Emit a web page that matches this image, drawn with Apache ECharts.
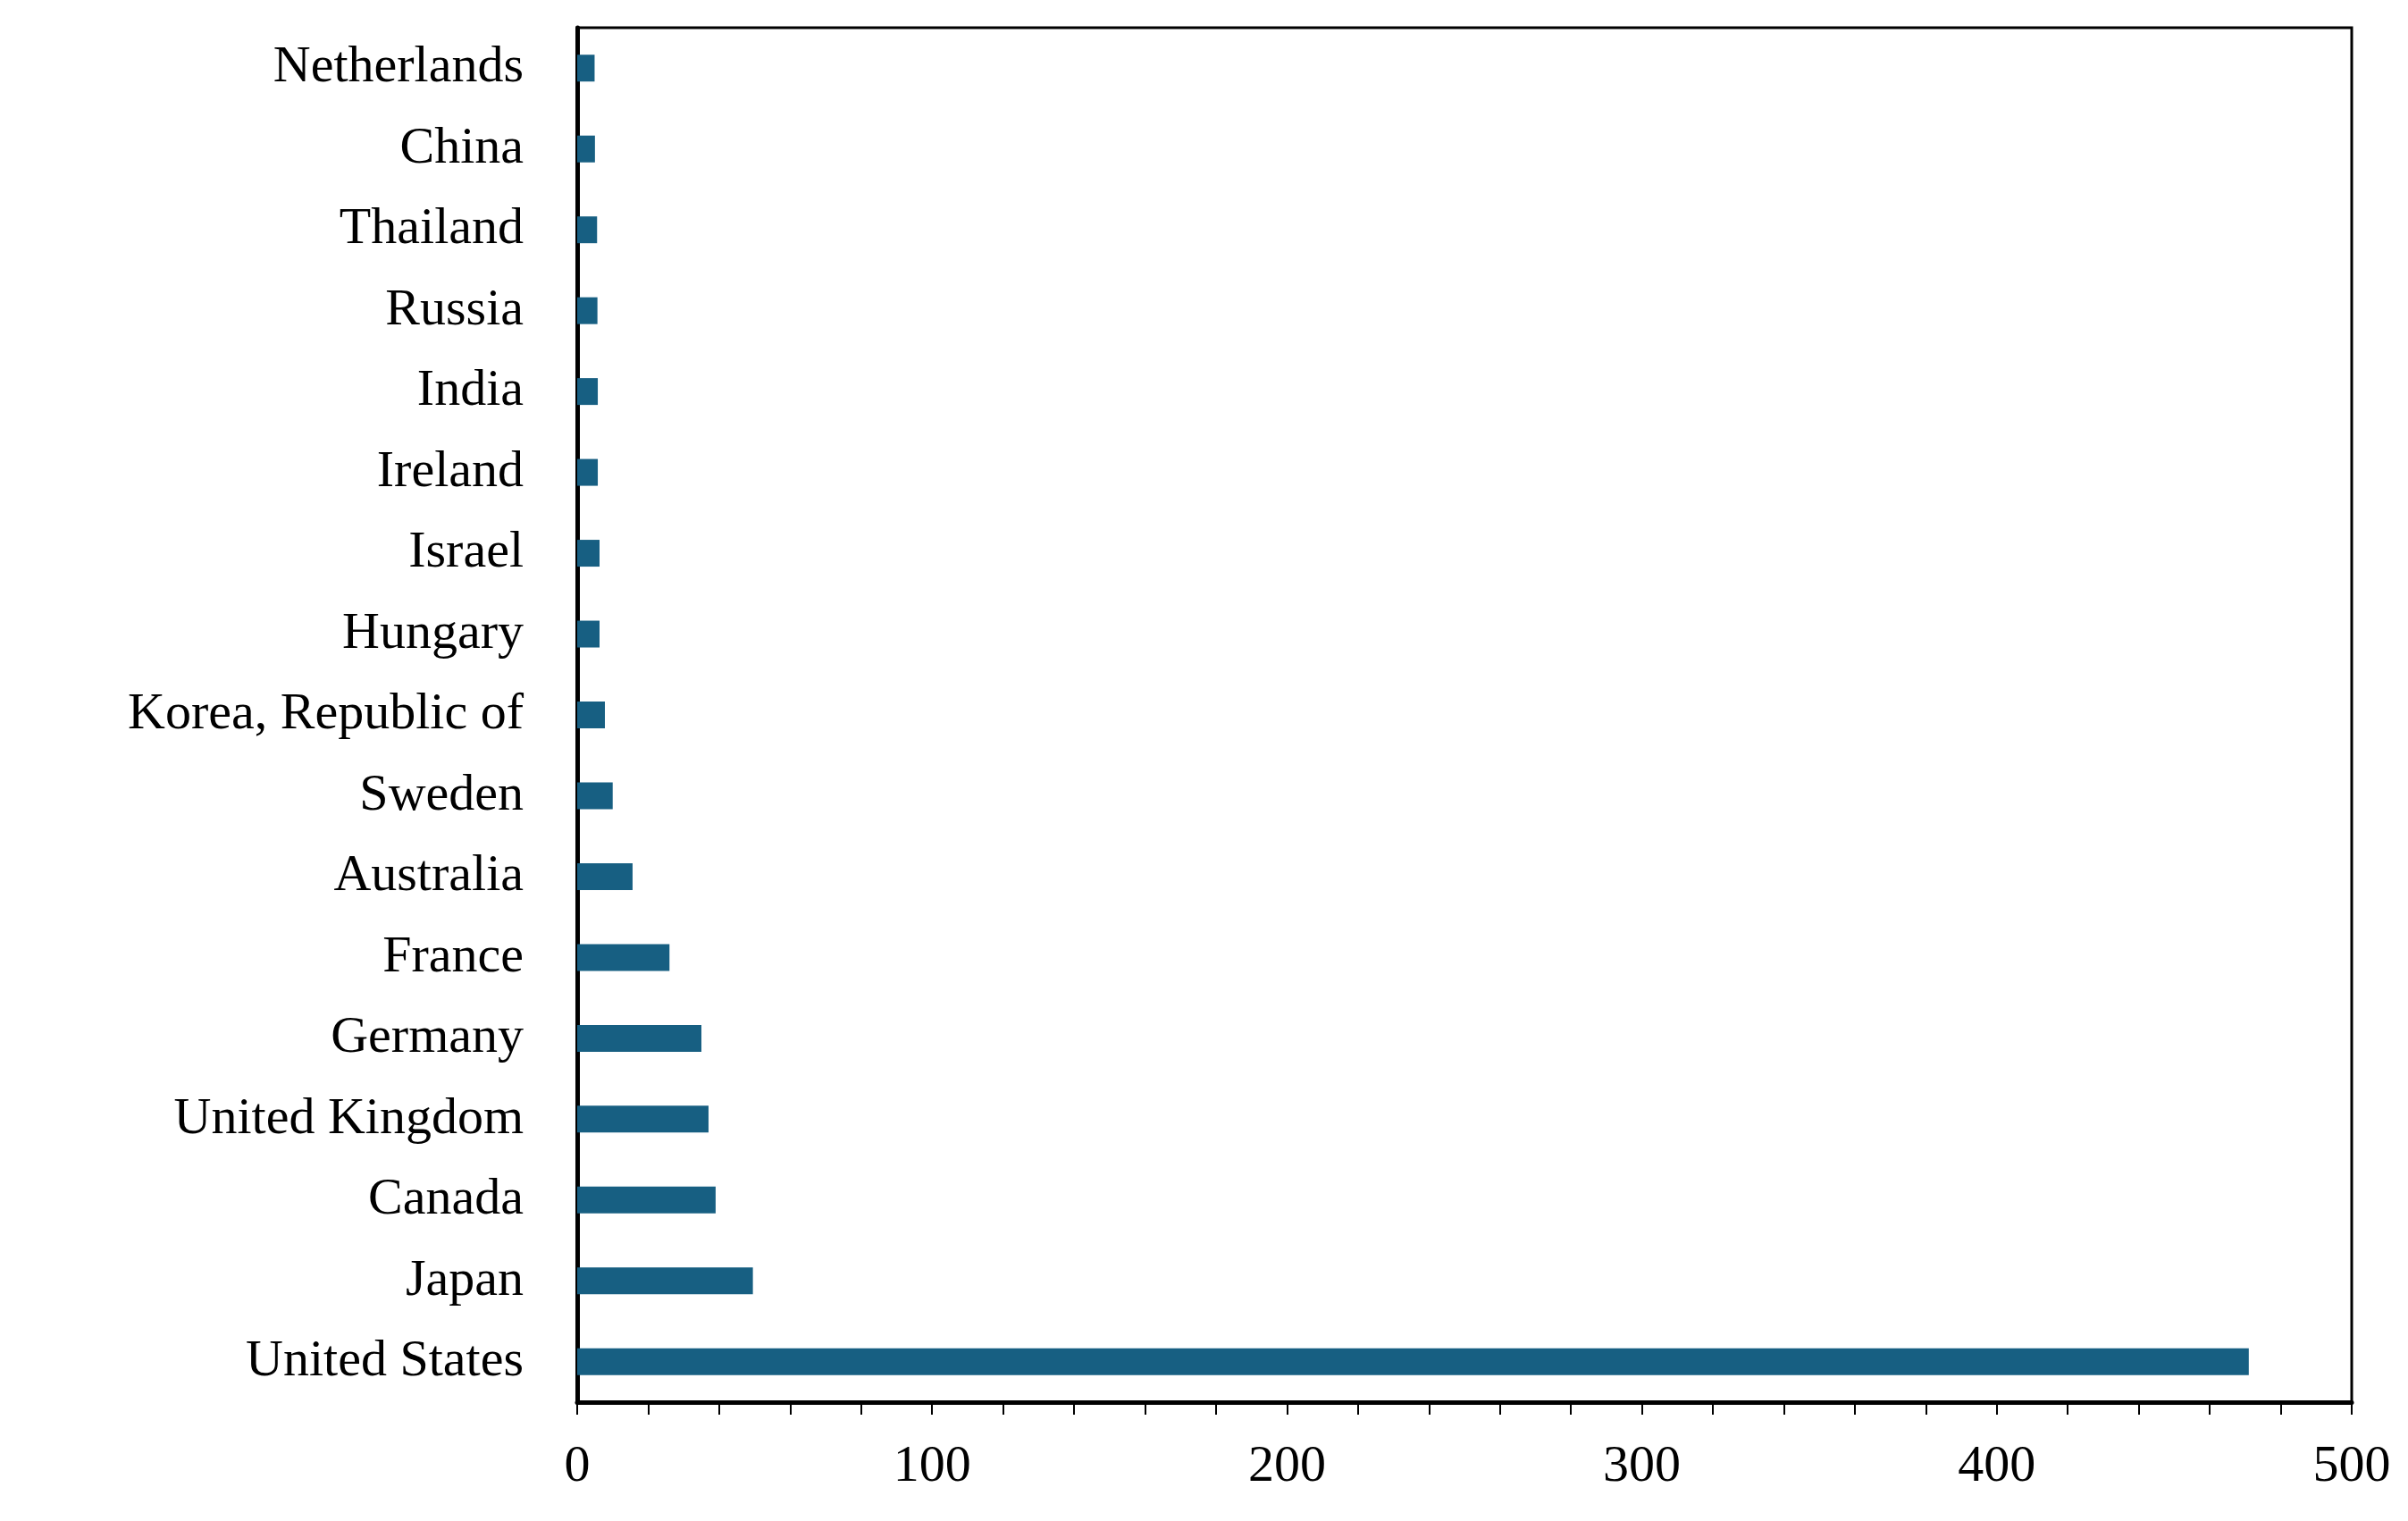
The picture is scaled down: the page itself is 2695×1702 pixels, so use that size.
<!DOCTYPE html>
<html>
<head>
<meta charset="utf-8">
<script src="https://cdn.jsdelivr.net/npm/echarts@6/dist/echarts.min.js"></script>
<style>html,body{margin:0;background:#fff}#chart{width:2695px;height:1702px}</style>
</head>
<body>
<div id="chart"></div>
<script>
// categories bottom to top
const countries = ['United States', 'Japan', 'Canada', 'United Kingdom', 'Germany', 'France', 'Australia',
  'Sweden', 'Korea, Republic of', 'Hungary', 'Israel', 'Ireland', 'India', 'Russia', 'Thailand', 'China', 'Netherlands']
const counts = [471, 49.5, 39, 37, 35, 26, 15.6, 10, 7.8, 6.3, 6.3, 5.8, 5.8, 5.7, 5.6, 5, 4.9]
const xTicks = [0, 100, 200, 300, 400, 500]

const font = 'Liberation Serif'
const chart = echarts.init(document.getElementById('chart'))
chart.setOption({
  animation: false,
  grid: { left: 646, right: 63, top: 31, bottom: 133, show: true, borderColor: '#000', borderWidth: 3 },
  xAxis: {
    type: 'value', min: 0, max: 500, interval: 20,
    axisLine: { show: true, lineStyle: { color: '#000', width: 5 } },
    axisTick: { show: true, length: 14, lineStyle: { color: '#000', width: 2 } },
    minorTick: { show: false },
    splitLine: { show: false },
    axisLabel: {
      color: '#000', fontFamily: font, fontSize: 58, margin: 44,
      formatter: v => (xTicks.includes(v) ? String(v) : '')
    }
  },
  yAxis: {
    type: 'category', data: countries,
    axisLine: { show: true, lineStyle: { color: '#000', width: 5 } },
    axisTick: { show: false },
    axisLabel: { color: '#000', fontFamily: font, fontSize: 58, margin: 60 }
  },
  series: [{
    type: 'bar', data: counts, barWidth: 30,
    itemStyle: { color: '#175f82' }
  }]
})
</script>
</body>
</html>
